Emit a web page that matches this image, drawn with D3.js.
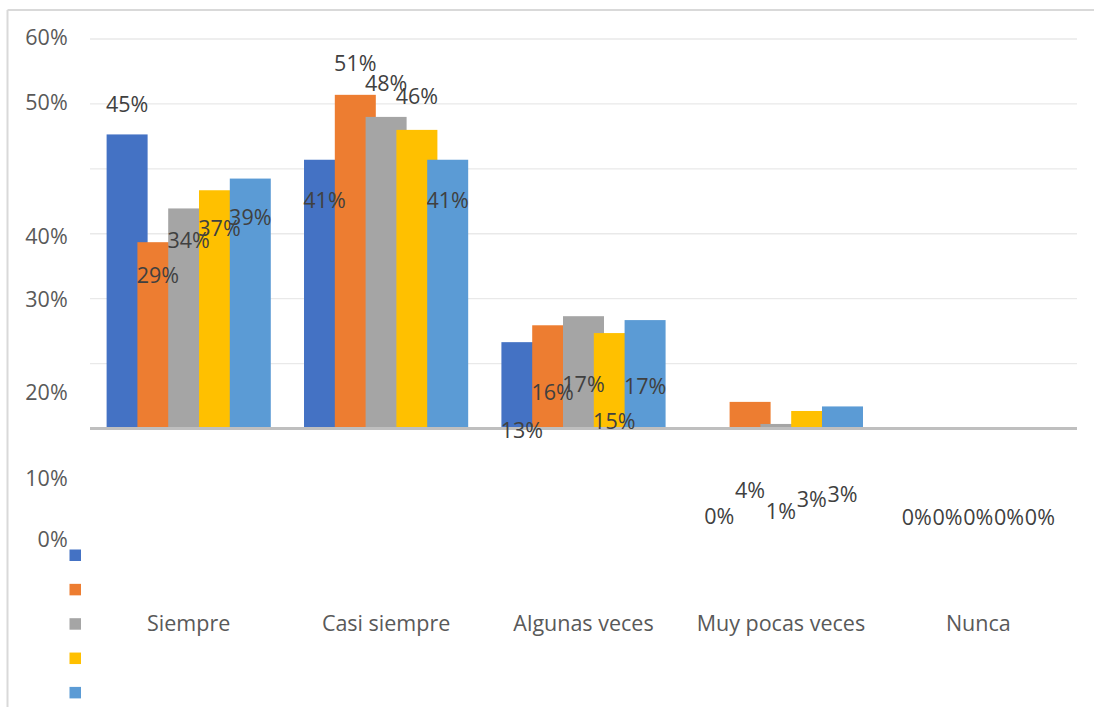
<!DOCTYPE html>
<html>
<head>
<meta charset="utf-8">
<script src="https://cdn.jsdelivr.net/npm/d3@7"></script>
<style>
  html, body { margin: 0; padding: 0; background: #fff; }
  svg { display: block; font-family: "Open Sans", "Noto Sans", sans-serif; }
</style>
</head>
<body>
<svg id="chart" width="1094" height="707"></svg>
<script>
// ---------- DATA ----------
const categories = ["Siempre", "Casi siempre", "Algunas veces", "Muy pocas veces", "Nunca"];
const seriesNames = ["S1", "S2", "S3", "S4", "S5"];
const s1 = [45.3, 41.4, 13.3, 0, 0];
const s2 = [28.7, 51.4, 15.9, 4.1, 0];
const s3 = [33.9, 48.0, 17.3, 0.7, 0];
const s4 = [36.7, 46.0, 14.7, 2.7, 0];
const s5 = [38.5, 41.4, 16.7, 3.4, 0];
const tickLabels = ["60%", "50%", "40%", "30%", "20%", "10%", "0%"];
const gridValues = [10, 20, 30, 40, 50, 60];

// ---------- LAYOUT / STYLE ----------
const colors = ["#4472C4", "#ED7D31", "#A5A5A5", "#FFC000", "#5B9BD5"];
// where the (displaced) tick labels sit, in axis units
const tickLabelAnchor = [60.2, 50.2, 29.65, 19.95, 5.5, -7.6, -17.0];
// where the (displaced) data labels sit, in axis units, per series x category
const labelAnchor = [
  [50.0, 35.1, -0.23, -13.6, -13.7],
  [23.65, 56.3, 5.5, -9.6, -13.7],
  [29.0, 53.2, 6.86, -12.7, -13.7],
  [30.9, 51.1, 1.05, -10.9, -13.7],
  [32.6, 35.1, 6.44, -10.2, -13.7]
];
const plot = { left: 90, right: 1077, top: 39, base: 428.5 };
const fontSize = 21.5;

const series = [s1, s2, s3, s4, s5];
const svg = d3.select("#chart");

// outer frame (partial, as in reference)
svg.append("line").attr("x1", 7.5).attr("x2", 7.5).attr("y1", 10).attr("y2", 707)
  .attr("stroke", "#d9d9d9").attr("stroke-width", 2);
svg.append("line").attr("x1", 7.5).attr("x2", 1094).attr("y1", 10).attr("y2", 10)
  .attr("stroke", "#d9d9d9").attr("stroke-width", 2);

const x = d3.scaleBand().domain(categories).range([plot.left, plot.right]).paddingInner(0).paddingOuter(0);
const y = d3.scaleLinear().domain([0, 60]).range([plot.base, plot.top]);

// overlapping bars within each band
const bw = x.bandwidth();
const barW = bw * 0.2077;
const barStep = bw * 0.156;
const groupW = barStep * (series.length - 1) + barW;
const xs = d3.scaleLinear().domain([0, series.length - 1]).range([0, barStep * (series.length - 1)]);
const barX = (ci, si) => x(categories[ci]) + bw / 2 - groupW / 2 + xs(si);

// gridlines
svg.append("g").selectAll("line").data(gridValues).join("line")
  .attr("x1", plot.left).attr("x2", plot.right)
  .attr("y1", d => y(d)).attr("y2", d => y(d))
  .attr("stroke", "#e9e9e9").attr("stroke-width", 1.3);

// tick labels
svg.append("g").selectAll("text").data(tickLabels).join("text")
  .attr("x", 67.7).attr("y", (d, i) => y(tickLabelAnchor[i]))
  .attr("dy", "0.357em").attr("text-anchor", "end")
  .attr("font-size", fontSize).attr("fill", "#595959").text(d => d);

// bars
series.forEach((vals, si) => {
  svg.append("g").selectAll("rect").data(vals).join("rect")
    .attr("x", (d, ci) => barX(ci, si))
    .attr("width", barW)
    .attr("y", d => y(d))
    .attr("height", d => y(0) - y(d))
    .attr("fill", colors[si]);
});

// baseline
svg.append("line").attr("x1", plot.left).attr("x2", plot.right)
  .attr("y1", y(0)).attr("y2", y(0))
  .attr("stroke", "#bfbfbf").attr("stroke-width", 3);

// data labels
series.forEach((vals, si) => {
  svg.append("g").selectAll("text").data(vals).join("text")
    .attr("x", (d, ci) => barX(ci, si) + barW / 2)
    .attr("y", (d, ci) => y(labelAnchor[si][ci]))
    .attr("dy", "0.357em").attr("text-anchor", "middle")
    .attr("font-size", fontSize).attr("fill", "#404040")
    .text(d => Math.round(d) + "%");
});

// category labels
svg.append("g").selectAll("text").data(categories).join("text")
  .attr("x", d => x(d) + bw / 2).attr("y", 631)
  .attr("text-anchor", "middle").attr("font-size", fontSize).attr("fill", "#595959")
  .text(d => d);

// legend (markers only, series names are empty)
svg.append("g").selectAll("rect").data(seriesNames).join("rect")
  .attr("x", 69.5).attr("y", (d, i) => 549.5 + i * 34.35)
  .attr("width", 11.5).attr("height", 11.5)
  .attr("fill", (d, i) => colors[i]);
</script>
</body>
</html>
